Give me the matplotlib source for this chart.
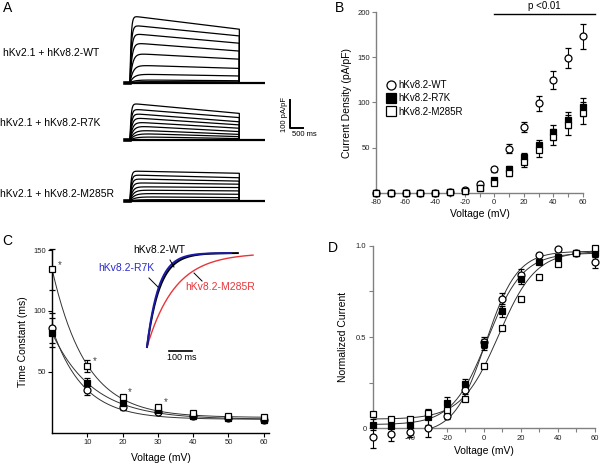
import numpy as np
import matplotlib.pyplot as plt
from matplotlib.lines import Line2D

plt.rcParams['font.family'] = ['Liberation Sans', 'DejaVu Sans']

W, H = 601, 465

# ---------------- data ----------------
# A: current at start / end of the depolarising step (pA/pF), one value per trace
a_wt_start = [239, 206, 176, 143, 105, 63, 31, 10, 4]
a_wt_end = [191, 167, 141, 113, 84, 51, 24, 7, 3]
a_r7k_start = [131, 111, 95, 80, 65, 51, 36, 24, 12]
a_r7k_end = [95, 80, 65, 54, 42, 30, 20, 12, 5]
a_m285r_start = [107, 93, 79, 65, 51, 39, 27, 15, 5]
a_m285r_end = [99, 83, 71, 60, 48, 36, 24, 12, 4]
a_tau_act = [40, 50, 60, 75, 95, 120, 150, 180, 220]  # ms
step_ms = 4100

# B: current density
v_b = [-80, -70, -60, -50, -40, -30, -20, -10, 0, 10, 20, 30, 40, 50, 60]
b_wt = [0, 0, 0, 0, 0, 1, 3, 10, 26, 49, 73, 99, 125, 149, 173]
b_wt_err = [1, 1, 1, 1, 1, 1, 1, 2, 3, 5, 6, 8, 10, 11, 14]
b_r7k = [0, 0, 0, 0, 0, 1, 2, 5, 14, 27, 40, 53, 67, 81, 95]
b_r7k_err = [1, 1, 1, 1, 1, 1, 1, 1, 2, 3, 4, 6, 8, 9, 10]
b_m285r = [0, 0, 0, 0, 0, 1, 2, 5, 11, 22, 34, 47, 62, 75, 88]
b_m285r_err = [1, 1, 1, 1, 1, 1, 1, 1, 2, 3, 5, 7, 9, 11, 12]

# C: activation time constants (ms)
v_c = [0, 10, 20, 30, 40, 50, 60]
c_wt = [86, 35, 21, 17, 13.5, 12, 10.5]
c_wt_err = [12, 4, 2, 1, 1, 1, 1]
c_r7k = [82, 41, 24.5, 18.5, 13.5, 12, 10.5]
c_r7k_err = [12, 4, 2, 1, 1, 1, 1]
c_m285r = [134, 55, 29, 21, 16, 14, 13]
c_m285r_err = [17, 5, 2, 2, 1, 1, 1]
c_sig = [0, 10, 20, 30]  # voltages with asterisk
# exponential fits: c + a*exp(-v/k)
c_fit = {'WT': (11, 75, 8.8), 'R7K': (11, 71, 11.5), 'M285R': (12.5, 122, 9.6)}
# inset: normalised activation traces, time constants (ms) and duration (ms)
inset_tau = {'WT': 55, 'R7K': 50, 'M285R': 120}
inset_len = {'WT': 390, 'R7K': 360, 'M285R': 455}

# D: normalised conductance
v_d = [-60, -50, -40, -30, -20, -10, 0, 10, 20, 30, 40, 50, 60]
d_wt = [-0.05, -0.03, -0.02, 0.0, 0.07, 0.21, 0.47, 0.71, 0.84, 0.95, 0.98, 0.96, 0.91]
d_wt_err = [0.06, 0.04, 0.03, 0.05, 0.02, 0.02, 0.03, 0.03, 0.03, 0.01, 0.01, 0.01, 0.03]
d_r7k = [0.02, 0.01, 0.02, 0.06, 0.14, 0.24, 0.46, 0.64, 0.82, 0.91, 0.94, 0.96, 0.96]
d_r7k_err = [0.03, 0.03, 0.03, 0.04, 0.03, 0.03, 0.03, 0.03, 0.03, 0.01, 0.01, 0.01, 0.02]
d_m285r = [0.08, 0.05, 0.05, 0.085, 0.10, 0.16, 0.34, 0.55, 0.71, 0.83, 0.90, 0.96, 0.99]
d_m285r_err = [0.01, 0.01, 0.01, 0.02, 0.02, 0.01, 0.01, 0.01, 0.01, 0.01, 0.01, 0.01, 0.01]
# Boltzmann fits: bottom, top, V1/2, slope
d_fit = {'WT': (-0.03, 0.97, 1, 8.5), 'R7K': (0.02, 0.96, 2, 9.5), 'M285R': (0.05, 0.97, 8, 10)}

labels = ['hKv8.2-WT', 'hKv8.2-R7K', 'hKv8.2-M285R']


def fx(px):
    return px / W


def fy(py):
    return 1 - py / H


def rect(l, t, r, b):
    return [fx(l), fy(b), (r - l) / W, (b - t) / H]


fig = plt.figure(figsize=(W / 100, H / 100), dpi=100)

styles = [dict(marker='o', mfc='white'), dict(marker='s', mfc='black'), dict(marker='s', mfc='white')]
eb_kw = dict(ls='none', ms=5, mec='black', mew=0.9, ecolor='black', elinewidth=0.8,
             capsize=2.3, capthick=0.8, clip_on=False)

# ---------------- A ----------------
MS_PX = 37.5      # ms per pixel
PA_PX = 100 / 28  # pA/pF per pixel
axA = fig.add_axes(rect(100, 0, 330, 215))
axA.set_xlim((100 - 130) * MS_PX, (330 - 130) * MS_PX)
axA.set_ylim(0, 215 * PA_PX)
axA.axis('off')
bases = [(215 - 82.7) * PA_PX, (215 - 140) * PA_PX, (215 - 201) * PA_PX]
t = np.linspace(0, step_ms, 400)
for base, starts, ends in zip(bases, [a_wt_start, a_r7k_start, a_m285r_start],
                              [a_wt_end, a_r7k_end, a_m285r_end]):
    axA.plot([-190, 5060], [base, base], color='black', lw=1.6, solid_capstyle='butt')
    axA.plot([-190, 0], [base, base], color='black', lw=2.6)
    for a0, a1, tau in zip(starts, ends, a_tau_act):
        amp = (a0 + (a1 - a0) * t / step_ms) * (1 - np.exp(-t / tau))
        xs = np.concatenate([t, [step_ms]])
        ys = np.concatenate([amp, [0]]) + base
        axA.plot(xs, ys, color='black', lw=0.9)
# scale bar
sb_x, sb_y = (290 - 130) * MS_PX, (215 - 128.3) * PA_PX
axA.plot([sb_x, sb_x, sb_x + 500], [sb_y + 100, sb_y, sb_y], color='black', lw=1.4, clip_on=False)
axA.text(sb_x - 5 * MS_PX, sb_y + 50, '100 pA/pF', rotation=90, ha='center', va='center', fontsize=5.5)
axA.text(sb_x + 2.5 * MS_PX, sb_y - 6 * PA_PX, '500 ms', ha='left', va='center', fontsize=5.5)

fig.text(fx(3), fy(53), 'hKv2.1 + hKv8.2-WT', fontsize=7.5, va='center')
fig.text(fx(0), fy(123), 'hKv2.1 + hKv8.2-R7K', fontsize=7.5, va='center')
fig.text(fx(0), fy(194), 'hKv2.1 + hKv8.2-M285R', fontsize=7.5, va='center')

# ---------------- B ----------------
gray = '#808080'
axB = fig.add_axes(rect(376, 12, 583, 193))
for y, e, st in zip([b_wt, b_r7k, b_m285r], [b_wt_err, b_r7k_err, b_m285r_err], styles):
    axB.errorbar(v_b, y, yerr=e, **st, **eb_kw, zorder=3)
axB.set_xlim(-80, 60)
axB.set_ylim(0, 200)
axB.set_xticks(range(-80, 61, 10))
axB.set_xticklabels([str(v) if v % 20 == 0 else '' for v in range(-80, 61, 10)])
axB.set_yticks([50, 100, 150, 200])
axB.plot([0, 68], [197.5, 197.5], color='black', lw=1, clip_on=False)
axB.text(34, 201, 'p <0.01', ha='center', va='bottom', fontsize=7)
axB.set_xlabel('Voltage (mV)', fontsize=7.5, labelpad=2)
axB.set_ylabel('Current Density (pA/pF)', fontsize=7.5, labelpad=4)
handles = [Line2D([], [], ls='none', mec='black', mew=0.9, ms=6.5, **st) for st in styles]
fig.legend(handles, labels, loc='upper left', bbox_to_anchor=(fx(387), fy(80)), frameon=False,
           fontsize=7, handlelength=0.8, handletextpad=0.35, labelspacing=0.35, borderpad=0,
           borderaxespad=0)

# ---------------- C ----------------
axC = fig.add_axes(rect(52, 250, 269, 432.7))
vv = np.linspace(0, 60, 200)
for key in ['WT', 'R7K', 'M285R']:
    c, a, k = c_fit[key]
    axC.plot(vv, c + a * np.exp(-vv / k), color='#333333', lw=0.7)
for y, e, st in zip([c_wt, c_r7k, c_m285r], [c_wt_err, c_r7k_err, c_m285r_err], styles):
    axC.errorbar(v_c, y, yerr=e, **st, **eb_kw, zorder=3)
for v in c_sig:
    i = v_c.index(v)
    axC.text(v + 1.6, c_m285r[i] + 4, '*', fontsize=7, color='#444444', ha='left', va='center')
axC.set_xlim(0, 61.5)
axC.set_ylim(0, 150)
axC.set_xticks([10, 20, 30, 40, 50, 60])
axC.set_yticks([50, 100, 150])
axC.set_xlabel('Voltage (mV)', fontsize=7.5, labelpad=5)
axC.set_ylabel('Time Constant (ms)', fontsize=7.5, labelpad=4)

# inset traces
axI = fig.add_axes(rect(140, 245, 262, 360))
axI.set_xlim(-30, -30 + 122 / 0.233)
axI.set_ylim(-13 / 94, 1 + 8 / 94)
axI.axis('off')
tcol = {'WT': 'black', 'R7K': '#1a1aa6', 'M285R': '#e8353a'}
for key in ['M285R', 'WT', 'R7K']:
    tt = np.linspace(0, inset_len[key], 300)
    axI.plot(tt, 1 - np.exp(-tt / inset_tau[key]), color=tcol[key], lw=1.4 if key != 'M285R' else 1.0)
axI.plot([95, 195], [-0.04, -0.04], color='black', lw=1.2)
fig.text(fx(182), fy(357), '100 ms', fontsize=6.5, ha='center', va='center')
fig.text(fx(133), fy(250), 'hKv8.2-WT', fontsize=7.5, color='black', va='center')
fig.text(fx(98), fy(268), 'hKv8.2-R7K', fontsize=7.5, color='#2a2ad0', va='center')
fig.text(fx(185), fy(287), 'hKv8.2-M285R', fontsize=7.5, color='#e8353a', va='center')
for (x0, y0), (x1, y1) in [((170, 260), (174, 267)), ((149, 278), (158, 287)), ((194, 273), (202, 281))]:
    fig.add_artist(Line2D([fx(x0), fx(x1)], [fy(y0), fy(y1)], color='black', lw=0.7))

# ---------------- D ----------------
axD = fig.add_axes(rect(372.7, 245.7, 595, 428.3))
vv = np.linspace(-60, 60, 300)
for key in ['WT', 'R7K', 'M285R']:
    b0, b1, v50, k = d_fit[key]
    axD.plot(vv, b0 + (b1 - b0) / (1 + np.exp((v50 - vv) / k)), color='#333333', lw=0.7)
for y, e, st in zip([d_wt, d_r7k, d_m285r], [d_wt_err, d_r7k_err, d_m285r_err], styles):
    axD.errorbar(v_d, y, yerr=e, **st, **eb_kw, zorder=3)
axD.set_xlim(-60, 60)
axD.set_ylim(0, 1)
axD.set_xticks(range(-50, 61, 10))
axD.set_xticklabels([str(v) if v % 20 == 0 else '' for v in range(-50, 61, 10)])
axD.set_yticks([0, 0.25, 0.5, 0.75, 1.0])
axD.set_yticklabels(['0', '', '0.5', '', '1.0'])
axD.set_xlabel('Voltage (mV)', fontsize=7.5, labelpad=3)
axD.set_ylabel('Normalized Current', fontsize=7.5, labelpad=6)

for ax, col in [(axB, gray), (axC, 'black'), (axD, gray)]:
    ax.spines['top'].set_visible(False)
    ax.spines['right'].set_visible(False)
    for s in ['left', 'bottom']:
        ax.spines[s].set_color(col)
        ax.spines[s].set_linewidth(1.0)
    ax.tick_params(length=3, width=0.8, color=col, labelsize=5.5, pad=1.5, labelcolor='#222222')
    ax.patch.set_visible(False)

# panel letters
fig.text(fx(3), fy(12), 'A', fontsize=10)
fig.text(fx(335), fy(12), 'B', fontsize=10)
fig.text(fx(2), fy(245), 'C', fontsize=10)
fig.text(fx(328), fy(252), 'D', fontsize=10)

fig.savefig('out.png', dpi=100)
